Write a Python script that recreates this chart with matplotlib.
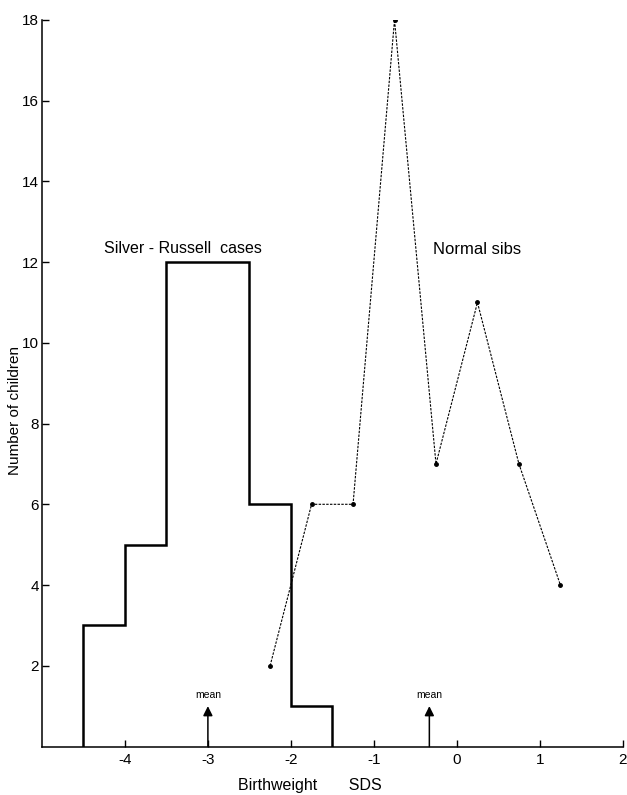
import numpy as np
import matplotlib
matplotlib.use("Agg")
import matplotlib.pyplot as plt

# -----------------------------------------------
# -             DATA                            -
# -----------------------------------------------
# Silver-Russell cases: histogram of birthweight SDS (bin edges and counts)
sr_edges = [-4.5, -4.0, -3.5, -3.0, -2.5, -2.0, -1.5]
sr_counts = [3, 5, 12, 12, 6, 1]

# Normal sibs: frequency polygon (bin midpoints and counts)
sib_x = [-2.25, -1.75, -1.25, -0.75, -0.25, 0.25, 0.75, 1.25]
sib_counts = [2, 6, 6, 18, 7, 11, 7, 4]

# group means
means = [-3.0, -0.33]

x_ticks = [-4, -3, -2, -1, 0, 1, 2]
y_ticks = [2, 4, 6, 8, 10, 12, 14, 16, 18]

# -----------------------------------------------
# -             PLOT DATA                       -
# -----------------------------------------------
plt.rcParams['font.family'] = ['Liberation Sans', 'DejaVu Sans']

fig = plt.figure(figsize=(6.27, 7.95), dpi=100)
ax = fig.add_axes([0.067, 0.061, 0.926, 0.914])

ax.stairs(sr_counts, sr_edges, baseline=0, color='black', linewidth=1.8)
ax.plot(sib_x, sib_counts, color='black', linestyle=(0, (2.2, 1.2)), linewidth=0.8,
        marker='o', markersize=2.5)

for m in means:
    ax.annotate('', xy=(m, 1.0), xytext=(m, 0),
                arrowprops=dict(arrowstyle='-|>', color='black', lw=1.1,
                                mutation_scale=14, shrinkA=0, shrinkB=0))
    ax.text(m, 1.15, 'mean', ha='center', va='bottom', fontsize=7.5)

ax.text(-3.30, 12.33, 'Silver - Russell  cases', ha='center', va='center', fontsize=11.5)
ax.text(-0.29, 12.3, 'Normal sibs', ha='left', va='center', fontsize=12)

ax.set_xlim(-5, 2)
ax.set_ylim(0, 18)
ax.set_xticks(x_ticks)
ax.set_xticklabels([str(t) for t in x_ticks])
ax.set_yticks(y_ticks)
ax.tick_params(direction='in', length=5, width=1, labelsize=11, pad=2)
ax.tick_params(axis='x', pad=5)

for side in ['top', 'right']:
    ax.spines[side].set_visible(False)
for side in ['left', 'bottom']:
    ax.spines[side].set_linewidth(1.1)

ax.set_xlabel('Birthweight       SDS', fontsize=11.5, va='center')
ax.set_ylabel('Number of children', fontsize=11, va='center')
ax.xaxis.set_label_coords(0.462, -0.054)
ax.yaxis.set_label_coords(-0.047, 0.463)

fig.savefig('out.png', dpi=100)
